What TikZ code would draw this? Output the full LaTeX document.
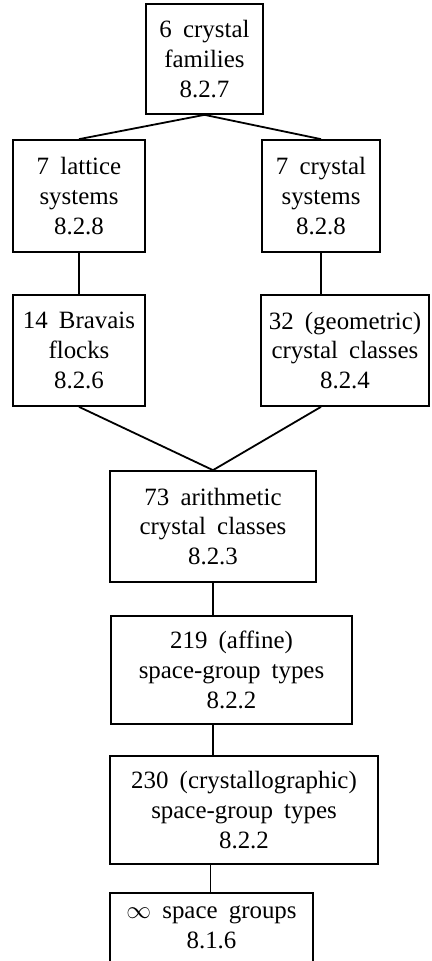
\documentclass[tikz,border=0pt]{standalone}
\usepackage{fontspec}
\setmainfont{Liberation Serif}
\newcommand\myboxfont{\fontsize{25}{30}\selectfont\spaceskip=0.45em plus 0.1em minus 0.05em\relax}
\begin{document}
\begin{tikzpicture}[x=1bp,y=-1bp,
  txt/.style={inner sep=0pt, align=center, font=\myboxfont},
  box/.style={txt, draw, line width=1.7bp},
  conn/.style={line width=1.8bp}]
\useasboundingbox (0,0) rectangle (431,961);
\node[box, minimum width=117bp, minimum height=110bp] (b1) at (204.5,59) {6 crystal\\families\\8.2.7};
\node[box, minimum width=132bp, minimum height=112bp] (b2) at (79,196) {7 lattice\\systems\\8.2.8};
\node[box, minimum width=118bp, minimum height=112bp] (b3) at (321,196) {7 crystal\\systems\\8.2.8};
\node[box, minimum width=132bp, minimum height=111bp] (b4) at (79,350.5) {14 Bravais\\flocks\\8.2.6};
\node[box, minimum width=168bp, minimum height=111bp] (b5) at (345,350.5) {32 (geometric)\\crystal classes\\8.2.4};
\node[box, minimum width=206bp, minimum height=111bp] (b6) at (213,526.5) {73 arithmetic\\crystal classes\\8.2.3};
\node[box, minimum width=241bp, minimum height=108bp] (b7) at (231.5,670) {219 (affine)\\space-group types\\8.2.2};
\node[box, minimum width=268bp, minimum height=108bp] (b8) at (244,810) {230 (crystallographic)\\space-group types\\8.2.2};
\node[txt, minimum width=203bp, minimum height=69bp] (b9) at (211.5,927.5) {$\infty$ space groups\\8.1.6};
\draw[line width=1.7bp] (b9.south west) -- (b9.north west) -- (b9.north east) -- (b9.south east);
\draw[conn] (b2.north) -- (b1.south) -- (b3.north);
\draw[conn] (b2.south) -- (b4.north);
\draw[conn] (b3.south) -- (b3.south |- b5.north);
\draw[conn] (b4.south) -- (b6.north) -- (b3.south |- b5.south);
\draw[conn] (b6.south) -- (b6.south |- b7.north);
\draw[conn] (b6.south |- b7.south) -- (b6.south |- b8.north);
\draw[conn] ([xshift=-1bp]b9.north |- b8.south) -- ([xshift=-1bp]b9.north);
\end{tikzpicture}
\end{document}
